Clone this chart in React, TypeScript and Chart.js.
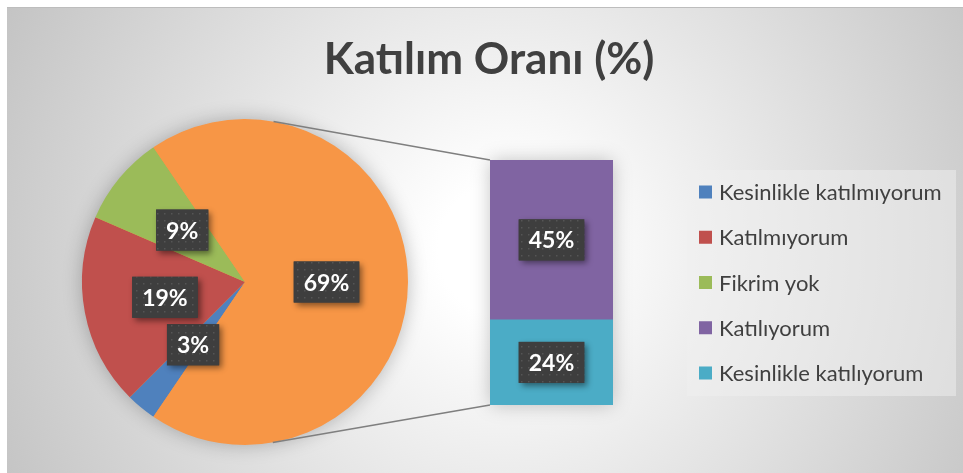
import React, { useEffect, useRef } from "react";
import { Chart, registerables } from "chart.js";

Chart.register(...registerables);

// ---- data ----
const chartTitle = "Katılım Oranı (%)";
const pieLabels = ["Kesinlikle katılmıyorum", "Katılmıyorum", "Fikrim yok", "Diğer"];
const pieValues = [3, 19, 9, 69];
const pieColors = ["#4F81BD", "#C0504D", "#9BBB59", "#F79646"];
const barCategory = ["Diğer"];
const barLabels = ["Kesinlikle katılıyorum", "Katılıyorum"];
const barValues = [24, 45];
const barColors = ["#4BACC6", "#8064A2"];
const legendLabels = [
  "Kesinlikle katılmıyorum",
  "Katılmıyorum",
  "Fikrim yok",
  "Katılıyorum",
  "Kesinlikle katılıyorum",
];
const legendColors = ["#4F81BD", "#C0504D", "#9BBB59", "#8064A2", "#4BACC6"];

const W = 956;
const H = 466;
const FONT = "Lato, 'Open Sans', sans-serif";
const TEXT = "#404040";

let dotPattern: CanvasPattern | null = null;
function getPattern(ctx: CanvasRenderingContext2D) {
  if (dotPattern) return dotPattern;
  const c = document.createElement("canvas");
  c.width = 7;
  c.height = 7;
  const p = c.getContext("2d")!;
  p.fillStyle = "#3e3e3e";
  p.fillRect(0, 0, 7, 7);
  p.fillStyle = "#555555";
  p.fillRect(3, 3, 1.5, 1.5);
  dotPattern = ctx.createPattern(c, "repeat");
  return dotPattern;
}

const labelBoxes = {
  id: "labelBoxes",
  afterDatasetsDraw(chart: any) {
    const ctx: CanvasRenderingContext2D = chart.ctx;
    ctx.save();
    ctx.font = `bold 23px ${FONT}`;
    chart.data.datasets.forEach((ds: any, di: number) => {
      const meta = chart.getDatasetMeta(di);
      meta.data.forEach((el: any, i: number) => {
        const v = ds.data[i];
        const txt = `${v}%`;
        const pt = el.getCenterPoint();
        const tw = ctx.measureText(txt).width;
        const bw = tw + 20;
        const bh = 41;
        ctx.save();
        ctx.shadowColor = "rgba(0,0,0,0.45)";
        ctx.shadowBlur = 6;
        ctx.shadowOffsetX = 3;
        ctx.shadowOffsetY = 3;
        ctx.fillStyle = "#3e3e3e";
        ctx.fillRect(pt.x - bw / 2, pt.y - bh / 2, bw, bh);
        ctx.restore();
        ctx.fillStyle = getPattern(ctx) as any;
        ctx.fillRect(pt.x - bw / 2, pt.y - bh / 2, bw, bh);
        ctx.fillStyle = "#ffffff";
        ctx.textAlign = "center";
        ctx.textBaseline = "alphabetic";
        ctx.fillText(txt, pt.x, pt.y + 8.5);
      });
    });
    ctx.restore();
  },
};

const pieDecor = {
  id: "pieDecor",
  beforeDatasetsDraw(chart: any) {
    const ctx: CanvasRenderingContext2D = chart.ctx;
    const arc = chart.getDatasetMeta(0).data[0];
    if (!arc) return;
    ctx.save();
    ctx.shadowColor = "rgba(0,0,0,0.28)";
    ctx.shadowBlur = 20;
    ctx.fillStyle = pieColors[3];
    ctx.beginPath();
    ctx.arc(arc.x, arc.y, arc.outerRadius - 1, 0, Math.PI * 2);
    ctx.fill();
    ctx.restore();
  },
  afterDraw(chart: any) {
    const ctx: CanvasRenderingContext2D = chart.ctx;
    ctx.save();
    // title
    ctx.fillStyle = TEXT;
    ctx.font = `bold 44px ${FONT}`;
    ctx.textAlign = "center";
    ctx.textBaseline = "alphabetic";
    ctx.fillText(chartTitle, 482, 67);
    // legend
    const lx = 680, ly = 163, lw = 269, lh = 226;
    ctx.fillStyle = "rgba(240,240,240,0.5)";
    ctx.fillRect(lx, ly, lw, lh);
    ctx.font = `22px ${FONT}`;
    ctx.textAlign = "left";
    legendLabels.forEach((lab, i) => {
      const cy = 185 + i * 45.25;
      ctx.fillStyle = legendColors[i];
      ctx.fillRect(692, cy - 6.5, 13, 13);
      ctx.fillStyle = TEXT;
      ctx.fillText(lab, 712, cy + 8);
    });
    ctx.restore();
  },
};

function makeBarDecor(getPie: () => any) {
  return {
    id: "barDecor",
    beforeDatasetsDraw(chart: any) {
      const ctx: CanvasRenderingContext2D = chart.ctx;
      const low = chart.getDatasetMeta(0).data[0];
      const top = chart.getDatasetMeta(chart.data.datasets.length - 1).data[0];
      if (!low || !top) return;
      const left = low.x - low.width / 2;
      const yTop = top.y;
      const yBot = low.base;
      ctx.save();
      ctx.shadowColor = "rgba(0,0,0,0.25)";
      ctx.shadowBlur = 18;
      ctx.fillStyle = barColors[1];
      ctx.fillRect(left + 1, yTop + 1, low.width - 2, yBot - yTop - 2);
      ctx.restore();
      // connectors
      const pie = getPie();
      const arc = pie && pie.getDatasetMeta(0).data[0];
      if (!arc) return;
      const cx = arc.x, cy = arc.y, r = arc.outerRadius;
      ctx.save();
      ctx.strokeStyle = "#7f7f7f";
      ctx.lineWidth = 1.5;
      const corners: [number, number, number][] = [
        [left, yTop, -1],
        [left, yBot, 1],
      ];
      corners.forEach(([px, py, s]) => {
        const dx = px - cx, dy = py - cy;
        const d = Math.sqrt(dx * dx + dy * dy);
        const a = Math.atan2(dy, dx) + s * Math.acos(r / d);
        ctx.beginPath();
        ctx.moveTo(cx + r * Math.cos(a), cy + r * Math.sin(a));
        ctx.lineTo(px, py);
        ctx.stroke();
      });
      ctx.restore();
    },
  };
}

export default function App() {
  const pieRef = useRef<HTMLCanvasElement | null>(null);
  const barRef = useRef<HTMLCanvasElement | null>(null);

  useEffect(() => {
    const total = pieValues.reduce((a, b) => a + b, 0);
    const otherShare = pieValues[pieValues.length - 1] / total;
    const pie = new Chart(pieRef.current!, {
      type: "pie",
      data: {
        labels: pieLabels,
        datasets: [
          {
            data: pieValues,
            backgroundColor: pieColors,
            borderWidth: 0,
          },
        ],
      },
      options: {
        responsive: false,
        animation: false,
        events: [],
        rotation: 90 + otherShare * 180,
        layout: { padding: { left: 75, right: 555, top: 112, bottom: 28 } },
        plugins: {
          legend: { display: false },
          title: { display: false },
          tooltip: { enabled: false },
        },
      },
      plugins: [pieDecor, labelBoxes],
    } as any);

    const barTotal = barValues.reduce((a, b) => a + b, 0);
    const bar = new Chart(barRef.current!, {
      type: "bar",
      data: {
        labels: barCategory,
        datasets: barValues.map((v, i) => ({
          label: barLabels[i],
          data: [v],
          backgroundColor: barColors[i],
          borderWidth: 0,
          categoryPercentage: 1,
          barPercentage: 1,
        })),
      },
      options: {
        responsive: false,
        animation: false,
        events: [],
        layout: { padding: { left: 483, right: 350, top: 153, bottom: 68 } },
        scales: {
          x: { stacked: true, display: false },
          y: { stacked: true, display: false, min: 0, max: barTotal },
        },
        plugins: {
          legend: { display: false },
          title: { display: false },
          tooltip: { enabled: false },
        },
      },
      plugins: [makeBarDecor(() => pie), labelBoxes],
    } as any);

    return () => {
      bar.destroy();
      pie.destroy();
    };
  }, []);

  return (
    <div
      style={{
        position: "fixed",
        left: 7,
        top: 7,
        width: W,
        height: H,
        overflow: "hidden",
        boxSizing: "border-box",
        borderTop: "1px solid #bdbdbd",
        background:
          "radial-gradient(circle farthest-corner at 52% 52%, #ffffff 12%, #c4c4c4 100%)",
      }}
    >
      <canvas ref={pieRef} width={W} height={H} style={{ position: "absolute", left: 0, top: -1 }} />
      <canvas ref={barRef} width={W} height={H} style={{ position: "absolute", left: 0, top: -1 }} />
    </div>
  );
}
